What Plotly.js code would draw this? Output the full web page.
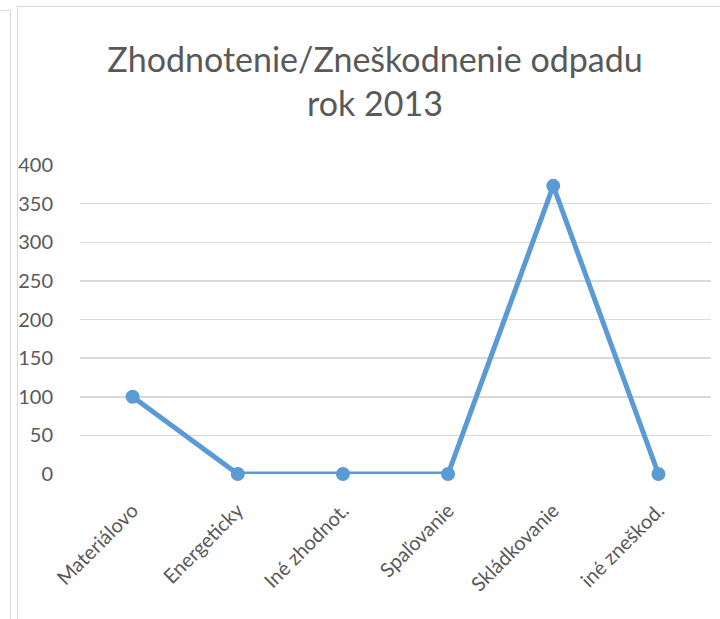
<!DOCTYPE html>
<html><head><meta charset="utf-8">
<script src="https://cdn.plot.ly/plotly-3.0.1.min.js"></script>
<style>
body{margin:0;padding:0;background:#fff;}
#wrap{position:relative;width:720px;height:619px;overflow:hidden;}
#chart{position:absolute;left:0;top:0;width:720px;height:619px;}
.b{position:absolute;background:#d9d9d9;}
</style></head>
<body><div id="wrap">
<div id="chart"></div>
<div class="b" style="left:0;top:10px;width:11px;height:1px;"></div>
<div class="b" style="left:10px;top:10px;width:1px;height:609px;"></div>
<div class="b" style="left:17px;top:6px;width:703px;height:1px;"></div>
<div class="b" style="left:17px;top:6px;width:1px;height:613px;"></div>
</div>
<script>
const categories = ["Materiálovo","Energeticky","Iné zhodnot.","Spaľovanie","Skládkovanie","iné zneškod."];
const values = [100, 0, 0, 0, 373, 0];
const titleLines = ["Zhodnotenie/Zneškodnenie odpadu","rok 2013"];
const yTicks = [0,50,100,150,200,250,300,350,400];

const font = "Lato, 'Open Sans', sans-serif";
Plotly.newPlot('chart', [{
  x: categories, y: values, type:'scatter', mode:'lines+markers',
  line:{color:'#5b9bd5', width:5},
  marker:{color:'#5b9bd5', size:14},
  cliponaxis:false
}], {
  width:720, height:619,
  margin:{l:80, r:9, t:165, b:145},
  paper_bgcolor:'rgba(0,0,0,0)', plot_bgcolor:'rgba(0,0,0,0)',
  showlegend:false,
  font:{family:font, color:'#595959'},
  title:{text:titleLines.join('<br>'), font:{family:font, size:34, color:'#595959'},
    x:375/720, xanchor:'center', xref:'container', y:1-72/619, yanchor:'middle', yref:'container'},
  xaxis:{type:'category', range:[-0.5,5.5], tickangle:-45, tickfont:{size:20, color:'#595959'},
    showgrid:false, zeroline:false, showline:false, ticks:'outside', ticklen:16, tickcolor:'rgba(0,0,0,0)'},
  yaxis:{range:[0,400], tickvals:yTicks, ticktext:yTicks.map(String), tickfont:{size:20, color:'#595959'},
    showgrid:true, gridcolor:'#d9d9d9', gridwidth:1.5, zeroline:false, showline:false,
    ticks:'outside', ticklen:22, tickcolor:'rgba(0,0,0,0)'}
}, {staticPlot:true});
</script></body></html>
